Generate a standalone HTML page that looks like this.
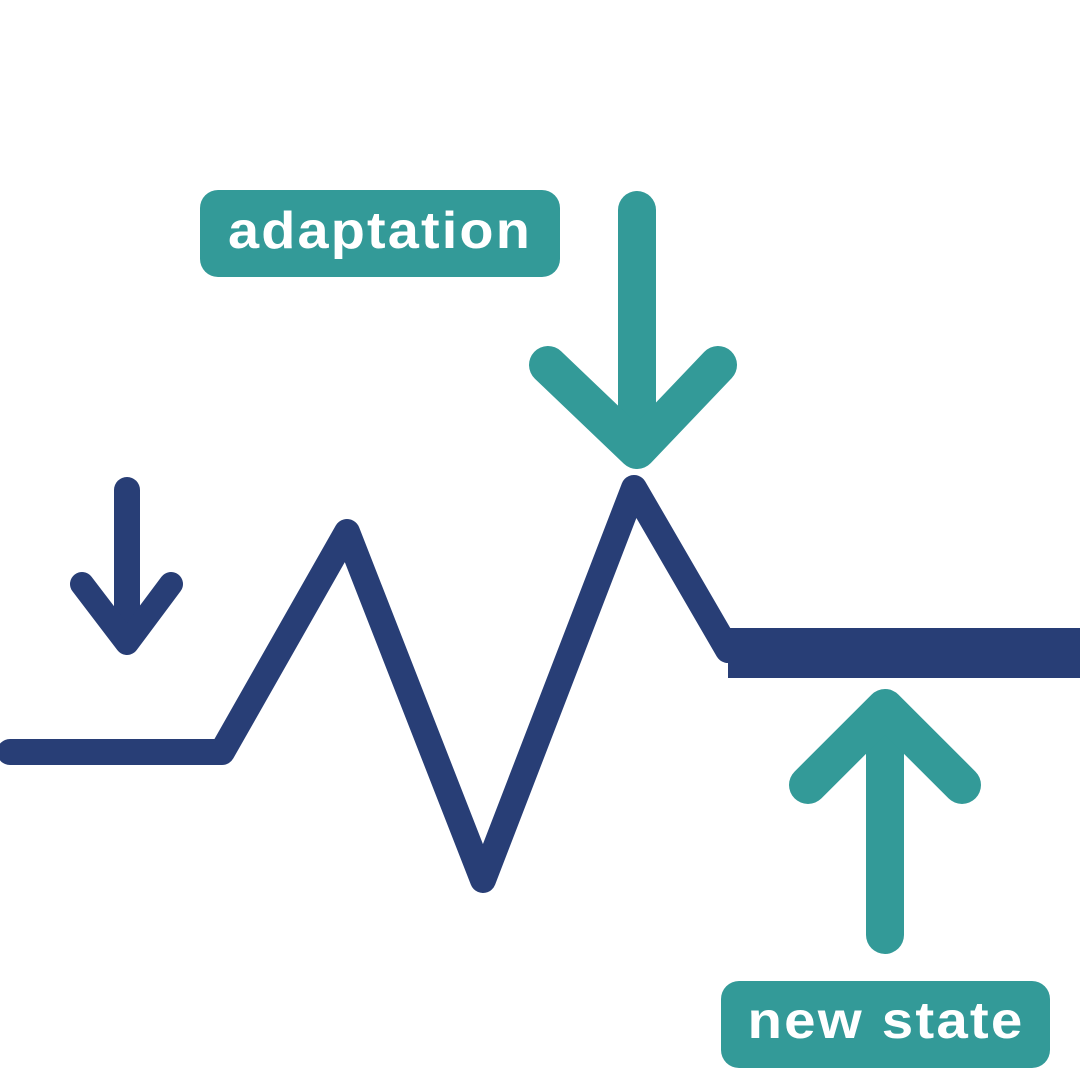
<!DOCTYPE html>
<html><head><style>
html,body{margin:0;padding:0;background:#fff;}
</style></head><body>
<svg width="1080" height="1080" viewBox="0 0 1080 1080" xmlns="http://www.w3.org/2000/svg">
<rect width="1080" height="1080" fill="#fff"/>
<polyline points="10,752 222,752 347,532 483,880 634,488 728,650" fill="none" stroke="#283e76" stroke-width="26" stroke-linejoin="round" stroke-linecap="round"/>
<rect x="728" y="628" width="352" height="50" fill="#283e76"/>
<line x1="127" y1="490" x2="127" y2="640" stroke="#283e76" stroke-width="26" stroke-linecap="round"/>
<polyline points="82,584 127,643 171,584" fill="none" stroke="#283e76" stroke-width="24" stroke-linecap="round" stroke-linejoin="round"/>
<line x1="637" y1="210" x2="637" y2="440" stroke="#339a98" stroke-width="38" stroke-linecap="round"/>
<polyline points="548,365 637,450 718,365" fill="none" stroke="#339a98" stroke-width="38" stroke-linecap="round" stroke-linejoin="round"/>
<line x1="885" y1="935" x2="885" y2="712" stroke="#339a98" stroke-width="38" stroke-linecap="round"/>
<polyline points="808,785 885,708 962,785" fill="none" stroke="#339a98" stroke-width="38" stroke-linecap="round" stroke-linejoin="round"/>
<rect x="200" y="190" width="360" height="87" rx="18" fill="#339a98"/>
<text x="380" y="248" text-anchor="middle" font-family="Liberation Sans, sans-serif" font-weight="bold" font-size="52" fill="#fff" letter-spacing="2" textLength="304" lengthAdjust="spacingAndGlyphs">adaptation</text>
<rect x="721" y="981" width="329" height="87" rx="18" fill="#339a98"/>
<text x="886" y="1038" text-anchor="middle" font-family="Liberation Sans, sans-serif" font-weight="bold" font-size="52" fill="#fff" letter-spacing="2" textLength="277" lengthAdjust="spacingAndGlyphs">new state</text>
</svg>
</body></html>
